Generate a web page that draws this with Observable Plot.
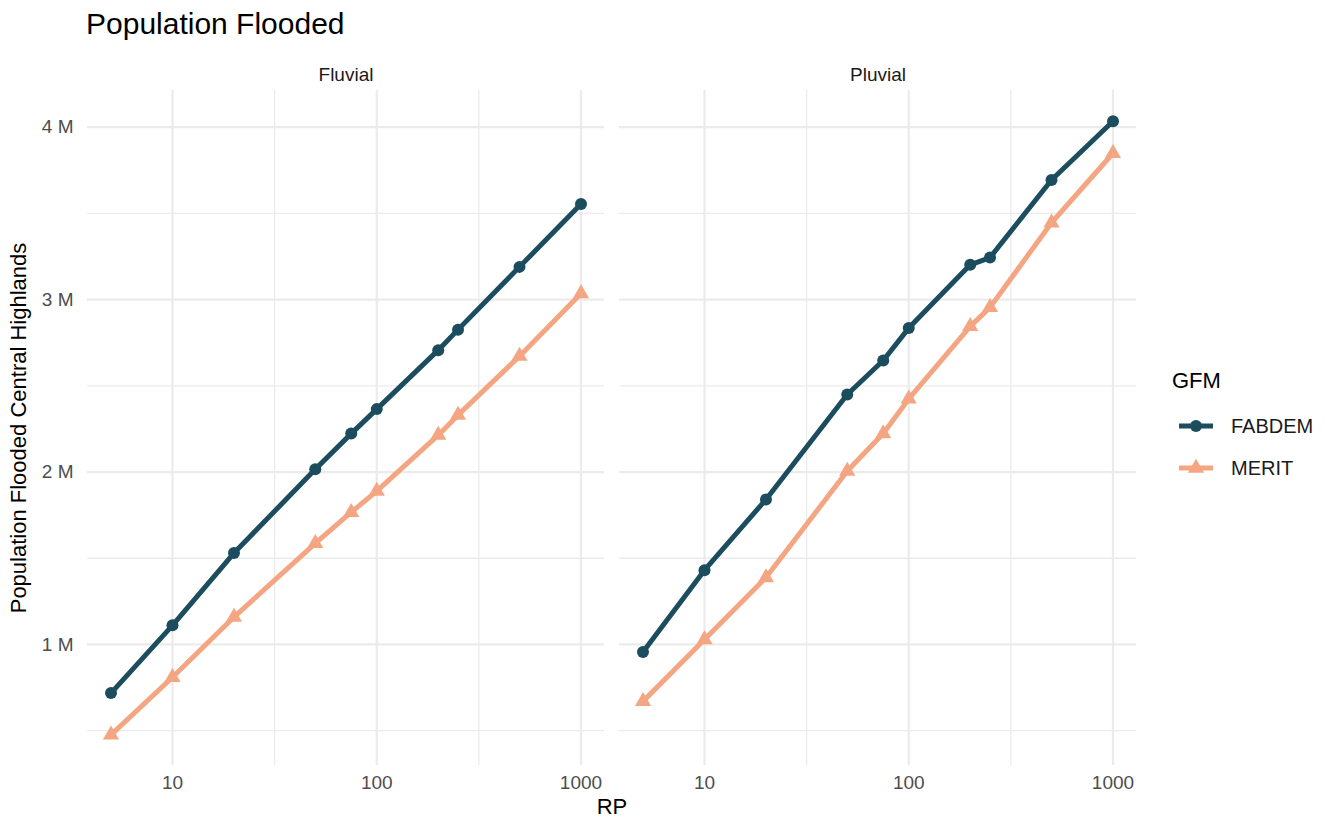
<!DOCTYPE html>
<html><head><meta charset="utf-8">
<script src="https://cdn.jsdelivr.net/npm/d3@7"></script>
<script src="https://cdn.jsdelivr.net/npm/@observablehq/plot@0.6"></script>
<style>
body{margin:0;background:#fff;font-family:"Liberation Sans",Arial,sans-serif;}
#wrap{position:relative;width:1325px;height:825px;overflow:hidden;background:#fff;}
#wrap > svg{position:absolute;left:0;top:0;}
.t{position:absolute;white-space:nowrap;line-height:1;}
</style></head><body><div id="wrap"></div>
<script>
const rp = [5, 10, 20, 50, 75, 100, 200, 250, 500, 1000];
const floodTypes = ["Fluvial", "Pluvial"];
const gfms = ["FABDEM", "MERIT"];
const gfmColors = ["#1B4D5E", "#F4A582"];
const gfmSymbols = ["circle", "triangle"];
// population flooded, millions
const fluvialFABDEM = [0.718, 1.111, 1.530, 2.016, 2.223, 2.365, 2.707, 2.826, 3.190, 3.554];
const fluvialMERIT  = [0.476, 0.810, 1.159, 1.586, 1.767, 1.889, 2.214, 2.330, 2.672, 3.035];
const pluvialFABDEM = [0.957, 1.431, 1.841, 2.450, 2.647, 2.835, 3.202, 3.244, 3.694, 4.035];
const pluvialMERIT  = [0.670, 1.029, 1.388, 2.006, 2.223, 2.424, 2.845, 2.955, 3.446, 3.849];
const yMajorTicks = [1e6, 2e6, 3e6, 4e6];
const yMinorTicks = [0.5e6, 1.5e6, 2.5e6, 3.5e6];
const xMajorTicks = [10, 100, 1000];
const xMinorTicks = [10 * Math.sqrt(10), 100 * Math.sqrt(10)];

const series = [
  ["Fluvial", "FABDEM", fluvialFABDEM],
  ["Fluvial", "MERIT", fluvialMERIT],
  ["Pluvial", "FABDEM", pluvialFABDEM],
  ["Pluvial", "MERIT", pluvialMERIT]
];
const data = series.flatMap(([type, gfm, vals]) =>
  vals.map((v, i) => ({type, gfm, rp: rp[i], pop: v * 1e6})));

// ggplot-like 5% expansion
const lx = d3.extent(rp).map(Math.log10);
const ex = (lx[1] - lx[0]) * 0.05;
const xDomain = [10 ** (lx[0] - ex), 10 ** (lx[1] + ex)];
const yr = d3.extent(data, d => d.pop);
const ey = (yr[1] - yr[0]) * 0.05;
const yDomain = [yr[0] - ey, yr[1] + ey];

const grid = "#EBEBEB";
const tickColor = "#4D4D4D";
const lineW = 5;
const dotR = 6;

const chart = Plot.plot({
  width: 1325, height: 825,
  marginLeft: 87, marginRight: 188, marginTop: 90, marginBottom: 60,
  style: {fontFamily: "'Liberation Sans', Arial, sans-serif", background: "transparent", overflow: "visible"},
  x: {type: "log", domain: xDomain},
  y: {domain: yDomain},
  fx: {domain: floodTypes, padding: 0.028},
  color: {domain: gfms, range: gfmColors},
  symbol: {domain: gfms, range: gfmSymbols},
  marks: [
    Plot.gridY(yMinorTicks, {stroke: grid, strokeOpacity: 1, strokeWidth: 1.3}),
    Plot.gridX(xMinorTicks, {stroke: grid, strokeOpacity: 1, strokeWidth: 1.3}),
    Plot.gridY(yMajorTicks, {stroke: grid, strokeOpacity: 1, strokeWidth: 2.2}),
    Plot.gridX(xMajorTicks, {stroke: grid, strokeOpacity: 1, strokeWidth: 2.2}),
    Plot.axisY(yMajorTicks, {tickSize: 0, tickPadding: 14, tickFormat: d => `${d / 1e6} M`, fontSize: 19, fill: tickColor, label: null}),
    Plot.axisX(xMajorTicks, {tickSize: 0, tickPadding: 10, tickFormat: d => String(d), fontSize: 19, fill: tickColor, label: null}),
    Plot.axisFx({anchor: "top", tickSize: 0, tickPadding: 10, fontSize: 19, fill: "#1A1A1A", label: null}),
    Plot.line(data, {x: "rp", y: "pop", z: "gfm", stroke: "gfm", fx: "type", strokeWidth: lineW, strokeLinecap: "butt"}),
    Plot.dot(data, {x: "rp", y: "pop", fill: "gfm", symbol: "gfm", fx: "type", r: dotR, stroke: null})
  ]
});
const wrap = document.getElementById("wrap");
wrap.appendChild(chart);

function addText(txt, css) {
  const d = document.createElement("div");
  d.className = "t";
  d.textContent = txt;
  Object.assign(d.style, css);
  wrap.appendChild(d);
  return d;
}
addText("Population Flooded", {left: "86px", top: "9px", fontSize: "30px", color: "#000"});
addText("RP", {left: "612px", top: "807px", fontSize: "22px", color: "#000", transform: "translate(-50%,-50%)"});
addText("Population Flooded Central Highlands", {left: "19px", top: "428px", fontSize: "22px", color: "#000", transform: "translate(-50%,-50%) rotate(-90deg)"});

// legend
addText("GFM", {left: "1172px", top: "381px", fontSize: "22px", color: "#000", transform: "translateY(-50%)"});
const leg = d3.select(wrap).append("svg")
  .attr("width", 1325).attr("height", 825)
  .style("position", "absolute").style("left", 0).style("top", 0).style("pointer-events", "none");
gfms.forEach((g, i) => {
  const y = 426 + i * 42;
  leg.append("line").attr("x1", 1179).attr("x2", 1213).attr("y1", y).attr("y2", y)
    .attr("stroke", gfmColors[i]).attr("stroke-width", lineW);
  const sym = gfmSymbols[i] === "circle" ? d3.symbolCircle : d3.symbolTriangle;
  leg.append("path").attr("transform", `translate(1196,${y})`)
    .attr("d", d3.symbol(sym, Math.PI * dotR * dotR)()).attr("fill", gfmColors[i]);
  addText(g, {left: "1231px", top: y + "px", fontSize: "20px", color: "#1A1A1A", transform: "translateY(-50%)"});
});
</script></body></html>
